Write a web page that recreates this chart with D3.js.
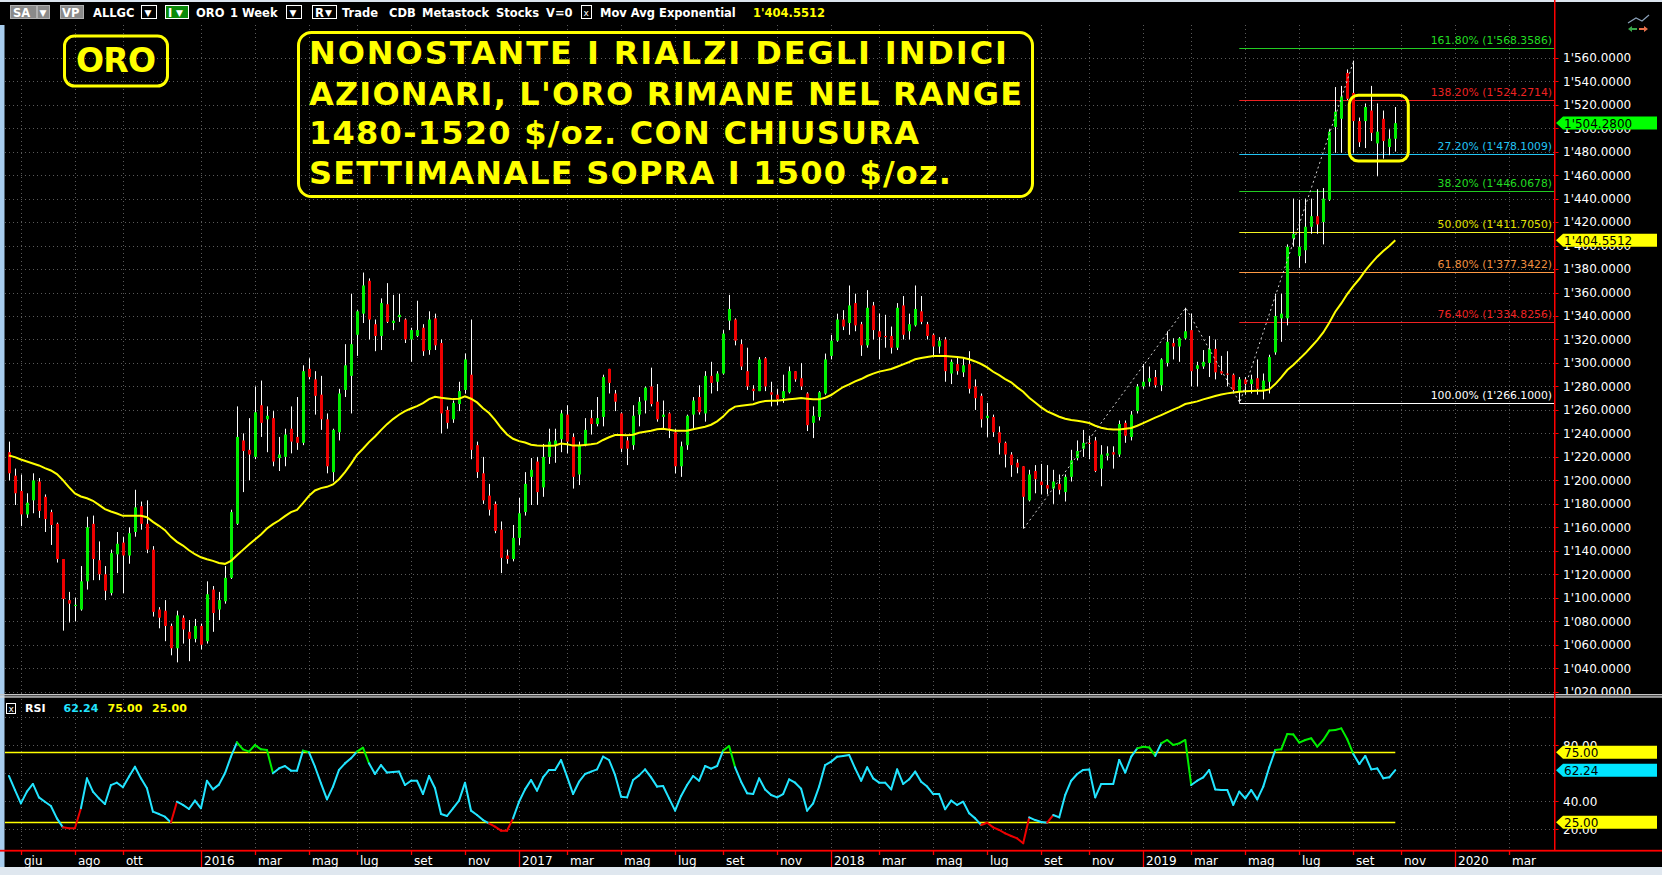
<!DOCTYPE html>
<html><head><meta charset="utf-8">
<script src="https://cdn.jsdelivr.net/npm/d3@7/dist/d3.min.js"></script>
<style>
html,body{margin:0;padding:0;background:#000;overflow:hidden}
svg{display:block}
text{font-family:"DejaVu Sans",sans-serif}
</style></head><body>
<svg id="c" width="1662" height="875"></svg>
<script>
// ---------------- DATA ----------------
const startDate = "2015-05-22"; // first weekly bar
const opens = [
1224,1204,1191,1171,1183,1199,1186,1173,1163,1133,
1098,1093,1090,1114,1163,1132,1120,1104,1137,1147,
1136,1156,1178,1163,1141,1090,1089,1076,1057,1083,
1071,1065,1076,1063,1107,1090,1097,1117,1163,1234,
1226,1220,1264,1252,1253,1219,1220,1244,1237,1232,
1295,1286,1273,1252,1207,1241,1277,1289,1324,1342,
1370,1333,1323,1350,1334,1339,1337,1320,1323,1330,
1311,1338,1317,1260,1252,1265,1277,1290,1230,1206,
1187,1180,1158,1136,1133,1151,1173,1203,1216,1194,
1220,1229,1235,1256,1237,1205,1231,1253,1248,1254,
1295,1274,1257,1234,1230,1256,1268,1280,1267,1254,
1257,1241,1212,1230,1256,1271,1257,1289,1284,1291,
1336,1337,1316,1293,1278,1276,1304,1275,1273,1270,
1275,1293,1287,1274,1249,1254,1274,1306,1319,1337,
1334,1351,1333,1315,1349,1327,1323,1323,1313,1349,
1327,1332,1344,1333,1324,1314,1320,1291,1299,1292,
1299,1280,1272,1253,1254,1241,1232,1222,1215,1212,
1183,1208,1199,1196,1193,1197,1190,1203,1219,1227,
1232,1234,1210,1221,1224,1222,1249,1237,1259,1280,
1284,1288,1281,1300,1317,1314,1321,1328,1295,1297,
1300,1312,1293,1291,1290,1276,1286,1282,1287,1277,
1284,1309,1338,1338,1406,1391,1396,1416,1425,1420,
1439,1501,1508,1547,1530,1506,1506,1515,1487,1508,
1484,1491];
const highs = [
1233,1210,1205,1189,1206,1202,1188,1175,1164,1133,
1105,1100,1127,1169,1170,1148,1127,1141,1156,1152,
1160,1192,1182,1183,1144,1092,1098,1078,1089,1085,
1081,1082,1078,1114,1110,1105,1127,1175,1263,1240,
1253,1280,1285,1263,1259,1237,1244,1263,1271,1298,
1304,1293,1289,1257,1244,1278,1316,1359,1345,1377,
1372,1337,1355,1368,1358,1359,1338,1330,1353,1333,
1344,1342,1320,1263,1268,1284,1308,1337,1233,1220,
1197,1182,1165,1141,1162,1185,1207,1219,1220,1231,
1244,1244,1260,1264,1240,1233,1253,1260,1271,1290,
1295,1277,1258,1237,1264,1271,1280,1296,1282,1268,
1258,1244,1233,1256,1271,1281,1293,1301,1293,1328,
1358,1338,1320,1313,1281,1305,1305,1284,1278,1290,
1297,1293,1300,1275,1263,1276,1308,1324,1342,1345,
1366,1359,1335,1362,1352,1342,1341,1331,1351,1357,
1342,1366,1357,1335,1325,1322,1322,1303,1305,1304,
1310,1286,1274,1266,1256,1246,1233,1224,1218,1212,
1209,1213,1214,1213,1209,1205,1205,1226,1234,1243,
1238,1237,1230,1229,1229,1251,1251,1259,1282,1299,
1297,1294,1304,1327,1321,1322,1347,1342,1301,1311,
1323,1320,1306,1310,1291,1288,1288,1290,1303,1291,
1307,1359,1359,1401,1440,1439,1440,1440,1448,1449,
1499,1535,1536,1550,1557.5,1509,1521,1536,1521,1515,
1499,1518];
const lows = [
1200,1179,1161,1168,1172,1168,1156,1145,1130,1072,
1079,1080,1089,1107,1115,1115,1098,1102,1121,1104,
1129,1152,1158,1138,1084,1074,1063,1051,1045,1061,
1046,1062,1056,1061,1071,1081,1095,1116,1162,1190,
1200,1218,1237,1224,1212,1208,1212,1223,1226,1230,
1286,1256,1243,1206,1199,1234,1271,1257,1306,1334,
1320,1310,1311,1334,1328,1335,1317,1301,1322,1306,
1307,1311,1240,1244,1249,1259,1274,1218,1202,1180,
1170,1155,1121,1129,1131,1145,1170,1179,1179,1186,
1214,1215,1224,1223,1193,1196,1229,1239,1246,1246,
1274,1259,1224,1213,1226,1246,1257,1263,1250,1244,
1236,1206,1203,1226,1244,1256,1250,1274,1276,1290,
1328,1315,1294,1277,1268,1276,1276,1263,1264,1266,
1274,1284,1277,1242,1236,1251,1273,1303,1318,1328,
1324,1327,1306,1313,1320,1303,1313,1308,1311,1320,
1320,1331,1333,1320,1305,1308,1284,1282,1290,1288,
1274,1260,1245,1237,1237,1222,1211,1203,1206,1159,
1182,1189,1188,1188,1180,1188,1182,1199,1217,1220,
1218,1207,1195,1217,1210,1220,1232,1234,1257,1278,
1280,1279,1276,1297,1303,1301,1320,1280,1280,1295,
1288,1286,1290,1280,1274,1266.1,1273,1274,1273,1269,
1274,1307,1318,1332,1399,1381,1385,1410,1410,1401,
1438,1479,1479,1524,1479,1484,1483,1489,1459,1474,
1477,1480];
const closes = [
1206,1189,1171,1181,1200,1174,1167,1162,1133,1099,
1095,1094,1114,1160,1133,1120,1106,1138,1146,1136,
1155,1177,1163,1141,1088,1083,1076,1057,1085,1073,
1065,1076,1060,1103,1087,1098,1117,1173,1237,1225,
1222,1258,1249,1255,1216,1222,1239,1233,1232,1293,
1288,1272,1252,1212,1243,1274,1298,1316,1344,1366,
1337,1323,1351,1335,1336,1341,1320,1328,1328,1310,
1337,1315,1257,1249,1266,1276,1303,1226,1207,1183,
1175,1157,1134,1133,1151,1172,1197,1209,1190,1220,
1233,1234,1257,1233,1203,1230,1243,1248,1253,1288,
1283,1267,1227,1227,1255,1267,1279,1265,1252,1256,
1244,1212,1229,1255,1268,1258,1289,1283,1291,1325,
1346,1319,1297,1280,1276,1303,1280,1273,1269,1276,
1293,1286,1280,1247,1255,1275,1303,1319,1337,1331,
1349,1332,1315,1347,1328,1322,1322,1313,1347,1324,
1333,1346,1335,1323,1314,1319,1293,1301,1293,1298,
1278,1270,1252,1255,1241,1232,1222,1213,1211,1186,
1205,1201,1196,1193,1199,1192,1203,1217,1225,1232,
1231,1208,1222,1223,1222,1248,1238,1256,1280,1284,
1287,1281,1303,1318,1314,1321,1327,1293,1298,1301,
1312,1292,1291,1290,1277,1286,1282,1286,1278,1285,
1305,1340,1342,1399,1410,1399,1416,1425,1418,1440,
1497,1514,1527,1525,1506,1488,1518,1496,1497,1489,
1491,1504.28];
const emaValues = [
1221.2,1219.8,1217.8,1216.1,1214.4,1212.7,1210.4,1208.4,1205.3,1200.2,
1194.2,1188.8,1186.3,1184.8,1182.6,1179.1,1175.5,1173.5,1171.8,1169.8,
1169.8,1169.8,1169.8,1168.6,1164.7,1161.3,1157.6,1151.9,1147.6,1144.5,
1140.5,1137.1,1134.5,1132.8,1131.4,1129.7,1128.9,1131.4,1136.2,1140.8,
1145.3,1149.6,1153.9,1159,1162.7,1165.8,1169.5,1172.9,1174.9,1180.6,
1186.8,1191.4,1193.4,1194.5,1196.5,1201,1207,1214.1,1221.8,1226.9,
1232.6,1237.4,1242.8,1247.9,1252.2,1255.9,1259,1261.2,1263.2,1265.8,
1269.2,1271.2,1270.3,1269.8,1269.2,1269.5,1271.5,1269.5,1266.4,1261.5,
1257.3,1251.6,1244.8,1239.1,1235.4,1233.4,1232.3,1230.3,1229.7,1229.4,
1229.4,1229.7,1231.3,1230.7,1229.6,1229.6,1230.1,1230.7,1231.5,1234.4,
1236.7,1238.6,1238.6,1238.4,1238.9,1240.6,1241.5,1242.3,1243.5,1244,
1243.2,1242.3,1242.3,1242.3,1243.5,1244.6,1245.7,1247.4,1250.3,1254.3,
1259.6,1262.8,1263.6,1264.2,1264.8,1266.5,1267.6,1267.9,1267.9,1268.5,
1269,1269.6,1270.2,1269.6,1269,1269,1270.4,1272.7,1276.1,1279.5,
1281.8,1284.3,1286.3,1288.9,1290.9,1292.6,1293.7,1294.9,1296.8,1298.8,
1300.8,1303.1,1304.2,1305.1,1305.9,1305.9,1305.9,1305.6,1305.1,1304.5,
1303.1,1301.3,1299.1,1296.2,1292.5,1289.7,1286.3,1283.5,1279.2,1275.5,
1270.4,1266.4,1262.2,1258.7,1256.5,1254.2,1252.5,1251.4,1250.8,1250,
1248.8,1246.5,1244.8,1243.7,1243.4,1243.4,1244,1244.6,1246.5,1248.8,
1251.1,1253.4,1255.6,1257.9,1260.2,1262.4,1265,1266.1,1267.3,1269,
1270.4,1271.8,1273.2,1274.1,1274.9,1275.5,1275.8,1276.1,1276.4,1276.4,
1277.5,1282,1287.7,1294,1298.2,1303.3,1308.2,1313.8,1319.5,1326,
1334.3,1343.6,1350.7,1358.7,1365.5,1371.5,1378.6,1384.8,1390.5,1395.3,
1399.6,1404.5512];
const rsiValues = [
58.1,48.1,38.5,46.9,52.4,42.8,39.7,36.6,27.8,21.4,
20.7,20.7,35,56.4,46.9,42.1,38.1,51.6,53.3,50,
57.6,64.7,56.4,49.3,32.6,30.9,29,24.8,39.7,37.4,
34.5,40.5,35,54.7,48.5,51.9,60,71.9,82.1,77.1,
75.5,80.2,77.1,76.6,60,63.5,65.2,61.9,61.9,76.2,
75,64.7,52.8,41.4,50.5,62.4,67.1,70.7,75.5,78.3,
67.1,59.5,65.9,60.5,60.9,61.2,51.6,54.7,54.7,45.2,
58.1,49.3,30.9,29.5,35,40.5,53.3,33.3,30.2,26.6,
24.3,21.9,19,19,27.8,39.7,48.5,55.2,47.6,57.1,
62.4,62.4,69.5,57.6,45.2,54,59.5,61.2,62.8,71.9,
69.5,58.8,43.3,42.8,55.2,58.5,62.8,57.1,50.5,50.9,
42.1,33.3,43.8,51.6,58.1,54.7,65.2,63.3,65.2,76.2,
79.5,64.3,54,45.7,45.2,56.4,48.5,44.5,42.8,45.2,
55.7,53.3,49,33.3,38.5,50.5,65.9,68.3,71.9,72.4,
73.1,63.5,54.7,64.3,56.4,53.3,53.3,48.5,62.8,52.4,
55.7,61.2,54,50.5,45.2,45.2,34.3,40.5,37.4,39.7,
31.4,27.8,23.1,24.7,21.4,19.5,17.1,15.2,13.5,10,
28.5,26.6,25.2,24.7,30.2,28.5,44.5,54.7,59.5,62.4,
62.8,42.8,52.4,52.4,52.4,69.5,60.5,71.9,77.8,79,
78.5,72.4,81.4,83.8,80.2,81.4,83.8,51.6,54.7,57.1,
62.4,48.5,48.1,48.1,37.4,46.9,42.1,48.1,41.4,50.5,
64.3,76.6,77.1,88.1,87.8,81.9,83.8,85,79,83.8,
90.5,90.9,92.1,84.3,73.8,66.6,72.4,62.8,63.5,56.4,
57.1,62.24];
const priceTicks = [1020,1040,1060,1080,1100,1120,1140,1160,1180,1200,1220,1240,1260,1280,1300,1320,1340,1360,1380,1400,1420,1440,1460,1480,1500,1520,1540,1560];
const rsiTicks = [20,40,80];
const rsiGrid = [20,40,60,80,100];
const rsiBands = [75,25];
const tickDates = ["2015-06-05","2015-08-07","2015-10-02","2016-01-01","2016-03-04","2016-05-06","2016-07-01","2016-09-02","2016-11-04",
"2017-01-06","2017-03-03","2017-05-05","2017-07-07","2017-09-01","2017-11-03","2018-01-05","2018-03-02","2018-05-04","2018-07-06",
"2018-09-07","2018-11-02","2019-01-04","2019-03-01","2019-05-03","2019-07-05","2019-09-06","2019-11-01","2020-01-03","2020-03-06"];
const tickLabels = ["giu","ago","ott","2016","mar","mag","lug","set","nov","2017","mar","mag","lug","set","nov","2018","mar","mag","lug",
"set","nov","2019","mar","mag","lug","set","nov","2020","mar"];
const fibPct = ["161.80%","138.20%","27.20%","38.20%","50.00%","61.80%","76.40%","100.00%"];
const fibValues = [1568.3586,1524.2714,1478.1009,1446.0678,1411.7050,1377.3422,1334.8256,1266.1000];
const fibStartIdx = 205;
const swingIdx = [169,196,205,224];
const boxIdx = [224,231];
const boxRange = [1472,1528];
const lastPrice = 1504.28, lastEma = 1404.5512, lastRsi = 62.24;
const textLines = ["NONOSTANTE I RIALZI DEGLI INDICI","AZIONARI, L'ORO RIMANE NEL RANGE","1480-1520 $/oz. CON CHIUSURA","SETTIMANALE SOPRA I 1500 $/oz."];

// ---------------- STYLE ----------------
const fibLineColors = ["#22cc22","#ee2222","#22c4f4","#22cc22","#f4f422","#ff9a44","#ee2222","#ffffff"];
const fibTextColors = ["#22dd22","#ee2222","#22c4f4","#22dd22","#e0e000","#f09040","#ee2222","#ffffff"];
const GREEN="#00ee00", RED="#ee0000", CYAN="#22e4ff", YEL="#ffff00";

const W=1662, H=875, AX=1554.5;
const svg = d3.select("#c");
const parse = d3.utcParse("%Y-%m-%d");
const d0 = parse(startDate);
const dates = closes.map((_,i)=>d3.utcDay.offset(d0, 7*i));
const x = d3.scaleUtc().domain([dates[0], dates[dates.length-1]]).range([8.9, 1395.3]);
const y = d3.scaleLinear().domain([1020,1560]).range([691.7,57.7]);
const yr = d3.scaleLinear().domain([0,100]).range([857.3,717.3]);
const fmtP = v => d3.format(",.4f")(v).replace(/,/g,"'");
const fmt2 = d3.format(".2f");
const tDates = tickDates.map(parse);

const defs = svg.append("defs");
defs.append("clipPath").attr("id","cm").append("rect").attr("x",5).attr("y",25).attr("width",AX-5).attr("height",669);
defs.append("clipPath").attr("id","cr").append("rect").attr("x",5).attr("y",698).attr("width",AX-5).attr("height",152);
defs.append("clipPath").attr("id","cl").append("rect").attr("x",AX+1).attr("y",25).attr("width",110).attr("height",669);
defs.append("clipPath").attr("id","clr").append("rect").attr("x",AX+1).attr("y",698).attr("width",110).attr("height",152);

svg.append("rect").attr("width",W).attr("height",H).attr("fill","#000");
svg.append("rect").attr("x",0).attr("y",0).attr("width",W).attr("height",2).attr("fill","#dbe4ee");
svg.append("rect").attr("x",0).attr("y",25).attr("width",4.5).attr("height",842).attr("fill","#a8cdee");
svg.append("rect").attr("x",0).attr("y",867).attr("width",W).attr("height",8).attr("fill","#dfe7ef");

// gridlines
const grid = svg.append("g").attr("stroke","#5a5a5a").attr("stroke-width",1).attr("stroke-dasharray","1,3");
grid.selectAll(".hg").data(priceTicks).join("line")
  .attr("x1",5).attr("x2",AX).attr("y1",d=>Math.round(y(d))+0.5).attr("y2",d=>Math.round(y(d))+0.5);
grid.selectAll(".vg").data(tDates).join("line")
  .attr("x1",d=>Math.round(x(d))+0.5).attr("x2",d=>Math.round(x(d))+0.5).attr("y1",25).attr("y2",694);
const gridR = svg.append("g").attr("stroke","#5a5a5a").attr("stroke-width",1).attr("stroke-dasharray","1,3");
gridR.selectAll("line.h").data(rsiGrid).join("line").attr("class","h")
  .attr("x1",5).attr("x2",AX).attr("y1",d=>Math.round(yr(d))+0.5).attr("y2",d=>Math.round(yr(d))+0.5);
gridR.selectAll("line.v").data(tDates).join("line").attr("class","v")
  .attr("x1",d=>Math.round(x(d))+0.5).attr("x2",d=>Math.round(x(d))+0.5).attr("y1",699).attr("y2",850);

// fib lines
const fx0 = x(dates[fibStartIdx]);
const fib = svg.append("g").attr("clip-path","url(#cm)");
fib.selectAll("line").data(fibValues).join("line")
  .attr("x1",fx0).attr("x2",AX).attr("y1",d=>Math.round(y(d))+0.5).attr("y2",d=>Math.round(y(d))+0.5)
  .attr("stroke",(d,i)=>fibLineColors[i]).attr("stroke-width",1);
fib.selectAll("text").data(fibValues).join("text")
  .attr("x",1552).attr("y",d=>y(d)-4).attr("text-anchor","end")
  .attr("font-size",10.8).attr("fill",(d,i)=>fibTextColors[i])
  .text((d,i)=>`${fibPct[i]} (${fmtP(d)})`);

// candles
const gc = svg.append("g").attr("clip-path","url(#cm)");
const idx = d3.range(closes.length);
gc.selectAll("line").data(idx).join("line")
  .attr("x1",i=>Math.round(x(dates[i]))+0.5).attr("x2",i=>Math.round(x(dates[i]))+0.5)
  .attr("y1",i=>y(highs[i])).attr("y2",i=>y(lows[i])).attr("stroke","#fff").attr("stroke-width",1);
gc.selectAll("rect").data(idx).join("rect")
  .attr("x",i=>Math.round(x(dates[i]))-1).attr("width",3)
  .attr("y",i=>y(Math.max(opens[i],closes[i])))
  .attr("height",i=>Math.max(1.2, Math.abs(y(opens[i])-y(closes[i]))))
  .attr("fill",i=>closes[i]>=opens[i]?GREEN:RED);

// EMA
gc.append("path").datum(emaValues)
  .attr("d",d3.line().x((d,i)=>x(dates[i])).y(d=>y(d)))
  .attr("fill","none").attr("stroke",YEL).attr("stroke-width",2);

// swing zigzag
const sw = swingIdx.map((k,j)=>[x(dates[k])+0.5, y(j%2===0?lows[k]:highs[k])]);
gc.append("path").attr("d",d3.line()(sw)).attr("fill","none").attr("stroke","#d0d0d0")
  .attr("stroke-width",1).attr("stroke-dasharray","2,3");

// consolidation box
svg.append("rect").attr("x",x(dates[boxIdx[0]])-4).attr("y",y(boxRange[1]))
  .attr("width",x(dates[boxIdx[1]])+13-(x(dates[boxIdx[0]])-4)).attr("height",y(boxRange[0])-y(boxRange[1]))
  .attr("rx",9).attr("fill","none").attr("stroke",YEL).attr("stroke-width",3);

// annotation boxes
svg.append("rect").attr("x",64.5).attr("y",36).attr("width",103).attr("height",50).attr("rx",10)
  .attr("fill","none").attr("stroke",YEL).attr("stroke-width",3);
svg.append("text").attr("x",76).attr("y",72.3).attr("font-size",33).attr("font-weight","bold")
  .attr("fill",YEL).attr("textLength",80).attr("lengthAdjust","spacing").text("ORO");
svg.append("rect").attr("x",298.5).attr("y",32.5).attr("width",734).attr("height",164).attr("rx",13)
  .attr("fill","none").attr("stroke",YEL).attr("stroke-width",3);
const lineBase=[64.3,105,144.3,184.3], lineLen=[698,713,610,642];
svg.selectAll("text.big").data(textLines).join("text").attr("class","big")
  .attr("x",309).attr("y",(d,i)=>lineBase[i]).attr("font-size",32).attr("font-weight","bold")
  .attr("fill",YEL).attr("textLength",(d,i)=>lineLen[i]).attr("lengthAdjust","spacing").text(d=>d);

// separator
svg.append("rect").attr("x",0).attr("y",694).attr("width",W).attr("height",1.4).attr("fill","#c4c4c4");
svg.append("rect").attr("x",0).attr("y",696.3).attr("width",W).attr("height",1.3).attr("fill","#dcdcdc");

// RSI panel
const gr = svg.append("g").attr("clip-path","url(#cr)");
gr.selectAll("line.b").data(rsiBands).join("line").attr("class","b")
  .attr("x1",5).attr("x2",x(dates[dates.length-1])).attr("y1",d=>Math.round(yr(d))+0.5).attr("y2",d=>Math.round(yr(d))+0.5)
  .attr("stroke",YEL).attr("stroke-width",1.3);
const segs = d3.range(rsiValues.length-1);
gr.selectAll("line.s").data(segs).join("line").attr("class","s")
  .attr("x1",i=>x(dates[i])).attr("x2",i=>x(dates[i+1]))
  .attr("y1",i=>yr(rsiValues[i])).attr("y2",i=>yr(rsiValues[i+1]))
  .attr("stroke",i=>rsiValues[i]>75?GREEN:(rsiValues[i]<25?RED:CYAN))
  .attr("stroke-width",2).attr("stroke-linecap","round");

// RSI header
svg.append("rect").attr("x",6.5).attr("y",703.5).attr("width",9).attr("height",10).attr("fill","#000").attr("stroke","#fff");
svg.append("text").attr("x",8.5).attr("y",712).attr("font-size",9).attr("fill","#fff").text("x");
const hdr = [["RSI",25,"#fff"],[fmt2(lastRsi),63.5,CYAN],["75.00",107.5,YEL],["25.00",152,YEL]];
svg.selectAll("text.hd").data(hdr).join("text").attr("class","hd")
  .attr("x",d=>d[1]).attr("y",712).attr("font-size",11).attr("font-weight","bold").attr("fill",d=>d[2]).text(d=>d[0]);

// axes lines
svg.append("rect").attr("x",AX-0.5).attr("y",0).attr("width",1.5).attr("height",851).attr("fill","#ff0000");
svg.append("rect").attr("x",0).attr("y",849.8).attr("width",W).attr("height",1.8).attr("fill","#ff0000");

// price axis labels
const pl = svg.append("g").attr("clip-path","url(#cl)");
pl.selectAll("line").data(priceTicks).join("line")
  .attr("x1",AX).attr("x2",AX+4).attr("y1",d=>Math.round(y(d))+0.5).attr("y2",d=>Math.round(y(d))+0.5)
  .attr("stroke","#ff0000");
pl.selectAll("text").data(priceTicks).join("text")
  .attr("x",1563).attr("y",d=>y(d)+4.4).attr("font-size",12).attr("fill","#fff").text(d=>fmtP(d));
function tag(g,val,yy,color,txt){
  g.append("path").attr("d",`M${AX+1.5},${yy} L${AX+8.5},${yy-6.5} L1657,${yy-6.5} L1657,${yy+6.5} L${AX+8.5},${yy+6.5} Z`).attr("fill",color);
  g.append("text").attr("x",1564).attr("y",yy+4.4).attr("font-size",12).attr("fill","#000").text(txt);
}
tag(pl,lastPrice,y(lastPrice),"#00ff00",fmtP(lastPrice));
tag(pl,lastEma,y(lastEma),"#ffff00",fmtP(lastEma));

// RSI axis labels
const rl = svg.append("g").attr("clip-path","url(#clr)");
rl.selectAll("line").data(rsiTicks).join("line")
  .attr("x1",AX).attr("x2",AX+4).attr("y1",d=>Math.round(yr(d))+0.5).attr("y2",d=>Math.round(yr(d))+0.5).attr("stroke","#ff0000");
rl.selectAll("text").data(rsiTicks).join("text")
  .attr("x",1563).attr("y",d=>yr(d)+4.4).attr("font-size",12).attr("fill","#fff").text(d=>fmt2(d));
tag(rl,75,yr(75),"#ffff00","75.00");
tag(rl,lastRsi,yr(lastRsi),"#00e5ff",fmt2(lastRsi));
tag(rl,25,yr(25),"#ffff00","25.00");

// x axis
const xa = svg.append("g");
xa.selectAll("line").data(tDates).join("line")
  .attr("x1",d=>Math.round(x(d))+0.5).attr("x2",d=>Math.round(x(d))+0.5)
  .attr("y1",851).attr("y2",(d,i)=>/^\d{4}$/.test(tickLabels[i])?867:855)
  .attr("stroke","#ff0000").attr("stroke-width",1.3);
xa.selectAll("text").data(tDates).join("text")
  .attr("x",d=>Math.round(x(d))+3).attr("y",864.5).attr("font-size",12).attr("fill","#fff")
  .text((d,i)=>tickLabels[i]);

// toolbar
const tb = svg.append("g").attr("font-size",11.5).attr("font-weight","bold");
function box(x0,w,fill,stroke){ tb.append("rect").attr("x",x0+0.5).attr("y",5.5).attr("width",w).attr("height",13).attr("fill",fill).attr("stroke",stroke); }
function txt(x0,s,c){ tb.append("text").attr("x",x0).attr("y",17).attr("fill",c||"#fff").text(s); }
box(10,26,"#8a8a8a","#b0b0b0"); txt(13,"SA");
box(37,12,"#8a8a8a","#b0b0b0"); tb.append("text").attr("x",39.5).attr("y",16).attr("font-size",9).attr("fill","#fff").text("▼");
box(60,23,"#8a8a8a","#b0b0b0"); txt(62,"VP");
txt(93,"ALLGC");
box(141,15,"#000","#fff"); tb.append("text").attr("x",144.5).attr("y",16).attr("font-size",9).attr("fill","#fff").text("▼");
box(165,23,"#0a8a0a","#fff"); txt(168,"I"); tb.append("text").attr("x",176).attr("y",16).attr("font-size",9).attr("fill","#fff").text("▼");
txt(196,"ORO"); txt(230,"1 Week");
box(286,15,"#000","#fff"); tb.append("text").attr("x",289.5).attr("y",16).attr("font-size",9).attr("fill","#fff").text("▼");
box(312,24,"#000","#fff"); txt(315,"R"); tb.append("text").attr("x",325).attr("y",16).attr("font-size",9).attr("fill","#fff").text("▼");
txt(342,"Trade"); txt(389,"CDB"); txt(422,"Metastock"); txt(496,"Stocks"); txt(546,"V=0");
box(581,10,"#000","#fff"); tb.append("text").attr("x",583.5).attr("y",15.5).attr("font-size",9).attr("font-weight","normal").attr("fill","#fff").text("x");
txt(600,"Mov Avg Exponential");
txt(753,fmtP(lastEma),"#ffff00");

// top-right icon
const ic = svg.append("g");
ic.append("polyline").attr("points","1628,23 1636,18 1642,21 1649,15").attr("fill","none").attr("stroke","#8aa0b8").attr("stroke-width",1.2);
ic.append("path").attr("d","M1628,29 L1632,26 L1632,28 L1637,28 L1637,30 L1632,30 L1632,32 Z").attr("fill","#3aa64a");
ic.append("path").attr("d","M1648,29 L1644,26 L1644,28 L1639,28 L1639,30 L1644,30 L1644,32 Z").attr("fill","#e8704a");
</script>
</body></html>
